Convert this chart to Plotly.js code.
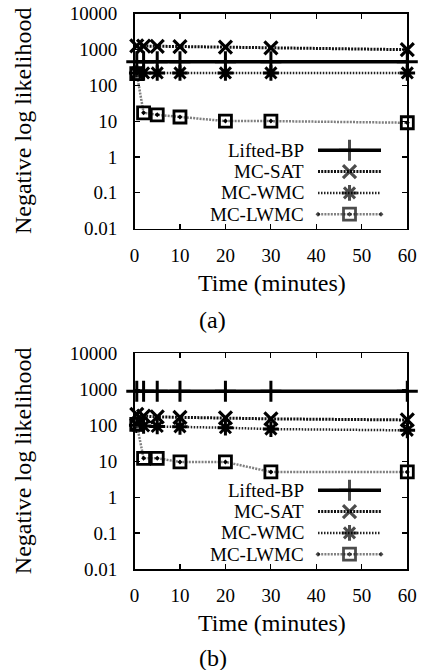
<!DOCTYPE html>
<html>
<head>
<meta charset="utf-8">
<script src="https://cdn.plot.ly/plotly-3.0.1.min.js"></script>
<style>html,body{margin:0;padding:0;background:#fff;}#chart{width:423px;height:670px;}</style>
</head>
<body>
<div id="chart"></div>
<script>
// ---- data ----
const times = [0.5, 2, 5, 10, 20, 30, 60];
const seriesNames = ["Lifted-BP", "MC-SAT", "MC-WMC", "MC-LWMC"];
// panel (a)
const liftedBP_a = [450, 450, 450, 450, 450, 450, 450];
const mcSAT_a    = [1250, 1230, 1220, 1200, 1150, 1100, 980];
const mcWMC_a    = [220, 220, 220, 220, 220, 220, 220];
const mcLWMC_a   = [210, 17, 15, 13, 10, 10, 9];
// panel (b)
const liftedBP_b = [880, 880, 880, 880, 880, 880, 880];
const mcSAT_b    = [200, 180, 170, 165, 160, 150, 140];
const mcWMC_b    = [100, 95, 92, 90, 85, 78, 72];
const mcLWMC_b   = [105, 12, 12, 9.5, 9.5, 5, 5];
const yTickVals  = [0.01, 0.1, 1, 10, 100, 1000, 10000];
const yTickText  = ["0.01", "0.1", "1", "10", "100", "1000", "10000"];
const xTickVals  = [0, 10, 20, 30, 40, 50, 60];
const panelLabels = ["(a)", "(b)"];
const xTitle = "Time (minutes)";
const yTitle = "Negative log likelihood";

// ---- styles ----
const W = 423, H = 670;
const FONT = "Liberation Serif";
const TICK_FS = 19, LEG_FS = 19, TITLE_FS = 24;
const styles = [
  {line: {color: "#000", width: 3.5, dash: "solid"}, marker: {symbol: "cross-thin-open", size: 15, color: "#000", line: {color: "#000", width: 3}}},
  {line: {color: "#111", width: 3, dash: "2px,1.2px"}, marker: {symbol: "x-thin-open", size: 13, color: "#000", line: {color: "#000", width: 3.2}}},
  {line: {color: "#222", width: 2.5, dash: "1.5px,1.5px"}, marker: {symbol: "asterisk-open", size: 13, color: "#000", line: {color: "#000", width: 3}}},
  {line: {color: "#808080", width: 2.5, dash: "2px,1.2px"}, marker: {symbol: "square-open-dot", size: 12, color: "#000", line: {color: "#000", width: 2.8}}}
];
const px = x => x / W;
const py = y => 1 - y / H;

const panels = [
  {data: [liftedBP_a, mcSAT_a, mcWMC_a, mcLWMC_a], top: 13.5, bottom: 228.7, xa: "x", ya: "y",
   legendTop: 150.3, xTitleY: 283, labelY: 320},
  {data: [liftedBP_b, mcSAT_b, mcWMC_b, mcLWMC_b], top: 353.3, bottom: 569, xa: "x2", ya: "y2",
   legendTop: 490.3, xTitleY: 623, labelY: 658}
];
const legendStep = 21.3;
const plotLeft = 134.5, plotRight = 407.3;

const traces = [];
const annotations = [];
panels.forEach((p, pi) => {
  p.data.forEach((vals, si) => {
    traces.push({
      x: times, y: vals, xaxis: p.xa, yaxis: p.ya, type: "scatter", mode: "lines+markers",
      name: seriesNames[si], line: styles[si].line, marker: styles[si].marker,
      cliponaxis: false, showlegend: false, hoverinfo: "skip"
    });
    // legend sample (drawn on pixel overlay axis)
    const ry = p.legendTop + si * legendStep;
    traces.push({
      x: [318, 349.5, 381], y: [ry, ry, ry], xaxis: "x3", yaxis: "y3", type: "scatter",
      mode: "lines+markers", line: styles[si].line,
      marker: Object.assign({}, styles[si].marker, {size: [0, styles[si].marker.size, 0]}),
      cliponaxis: false, showlegend: false, hoverinfo: "skip"
    });
    annotations.push({
      xref: "paper", yref: "paper", x: px(305), y: py(ry), xanchor: "right", yanchor: "middle",
      text: seriesNames[si], showarrow: false, borderpad: 0,
      font: {family: FONT, size: LEG_FS, color: "#000"}
    });
  });
  annotations.push({xref: "paper", yref: "paper", x: px(272), y: py(p.xTitleY), xanchor: "center", yanchor: "middle",
    text: xTitle, showarrow: false, font: {family: FONT, size: TITLE_FS, color: "#000"}});
  annotations.push({xref: "paper", yref: "paper", x: px(213), y: py(p.labelY), xanchor: "center", yanchor: "middle",
    text: panelLabels[pi], showarrow: false, font: {family: FONT, size: TITLE_FS, color: "#000"}});
  annotations.push({xref: "paper", yref: "paper", x: px(23), y: py((p.top + p.bottom) / 2), xanchor: "center", yanchor: "middle",
    text: yTitle, textangle: -90, showarrow: false, font: {family: FONT, size: TITLE_FS, color: "#000"}});
});

function xaxisDef(anchor) {
  return {
    domain: [px(plotLeft), px(plotRight)], anchor: anchor, range: [0, 60], tickvals: xTickVals,
    ticks: "inside", ticklen: 5, tickwidth: 1.2, tickcolor: "#000", mirror: "allticks",
    showline: true, linecolor: "#000", linewidth: 1.5, showgrid: false, zeroline: false,
    tickfont: {family: FONT, size: TICK_FS, color: "#000"}, ticklabelstandoff: 9, fixedrange: true
  };
}
function yaxisDef(anchor, top, bottom) {
  return {
    domain: [py(bottom), py(top)], anchor: anchor, type: "log", range: [-2, 4],
    tickvals: yTickVals, ticktext: yTickText,
    ticks: "inside", ticklen: 5, tickwidth: 1.2, tickcolor: "#000", mirror: "allticks",
    showline: true, linecolor: "#000", linewidth: 1.5, showgrid: false, zeroline: false,
    tickfont: {family: FONT, size: TICK_FS, color: "#000"}, ticklabelstandoff: 12, fixedrange: true
  };
}

const layout = {
  width: W, height: H, margin: {l: 0, r: 0, t: 0, b: 0, pad: 0},
  paper_bgcolor: "#fff", plot_bgcolor: "rgba(0,0,0,0)", showlegend: false,
  font: {family: FONT, size: TICK_FS, color: "#000"},
  xaxis: xaxisDef("y"),
  yaxis: yaxisDef("x", panels[0].top, panels[0].bottom),
  xaxis2: xaxisDef("y2"),
  yaxis2: yaxisDef("x2", panels[1].top, panels[1].bottom),
  xaxis3: {domain: [0, 1], range: [0, W], visible: false, anchor: "y3", fixedrange: true},
  yaxis3: {domain: [0, 1], range: [H, 0], visible: false, anchor: "x3", fixedrange: true},
  annotations: annotations
};

Plotly.newPlot("chart", traces, layout, {staticPlot: true, displayModeBar: false});
</script>
</body>
</html>
